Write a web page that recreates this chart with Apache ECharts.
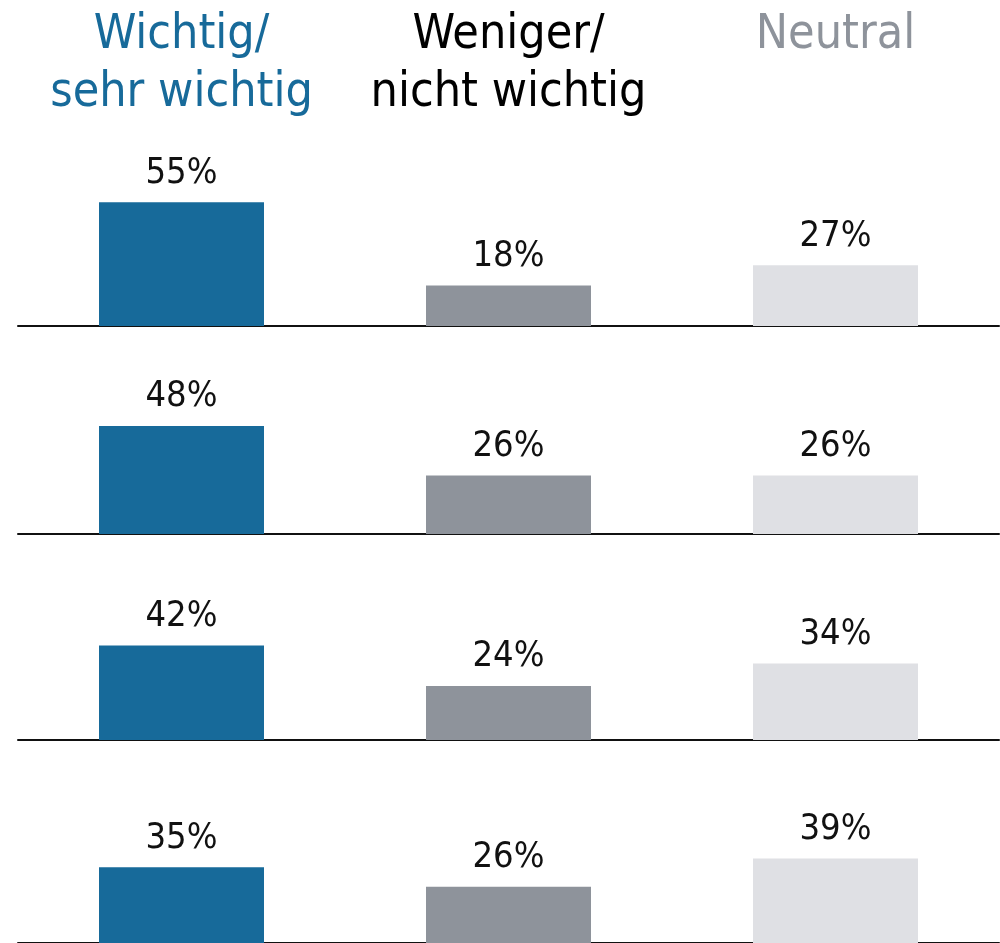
<!DOCTYPE html>
<html>
<head>
<meta charset="utf-8">
<script src="https://cdn.jsdelivr.net/npm/echarts@6/dist/echarts.min.js"></script>
<style>html,body{margin:0;padding:0;background:#fff}#c{width:1000px;height:943px}</style>
</head>
<body>
<div id="c"></div>
<script>
const categories = ['Wichtig/\nsehr wichtig', 'Weniger/\nnicht wichtig', 'Neutral'];
const wichtig = [55, 48, 42, 35];
const weniger = [18, 26, 24, 26];
const neutral = [27, 26, 34, 39];

const FONT = "'DejaVu Sans Condensed', 'Liberation Sans Narrow', sans-serif";
const barColors = ['#176a9a', '#8e939b', '#dfe0e4'];
const headColors = ['#176a9a', '#000000', '#8e939b'];
const baselines = [326, 534, 740, 948];
const YMAX = 60, PXPER = 2.25;
const H = YMAX * PXPER;

const grids = [], xAxes = [], yAxes = [], series = [];
baselines.forEach((b, i) => {
  grids.push({left: 18, width: 981, top: b - H, height: H});
  xAxes.push({
    type: 'category', gridIndex: i, data: categories,
    axisLine: {show: true, lineStyle: {color: '#111', width: 2}},
    axisTick: {show: false}, axisLabel: {show: false}
  });
  yAxes.push({type: 'value', gridIndex: i, min: 0, max: YMAX, show: false, splitLine: {show: false}});
  series.push({
    type: 'bar', xAxisIndex: i, yAxisIndex: i, barWidth: 165,
    data: [wichtig[i], weniger[i], neutral[i]].map((v, k) => ({value: v, itemStyle: {color: barColors[k]}})),
    label: {show: true, position: 'top', distance: 11, formatter: '{c}%',
      fontFamily: FONT, fontSize: 36, color: '#111'},
    animation: false
  });
});
// header labels on top of first grid
xAxes.push({
  type: 'category', gridIndex: 0, data: categories, position: 'top', offset: 176,
  axisLine: {show: false}, axisTick: {show: false},
  axisLabel: {show: true, interval: 0, verticalAlign: 'top', fontFamily: FONT, fontSize: 48, lineHeight: 58,
    color: (v, idx) => headColors[categories.indexOf(v)]}
});

const chart = echarts.init(document.getElementById('c'), null, {renderer: 'canvas'});
chart.setOption({animation: false, grid: grids, xAxis: xAxes, yAxis: yAxes, series: series});
</script>
</body>
</html>
